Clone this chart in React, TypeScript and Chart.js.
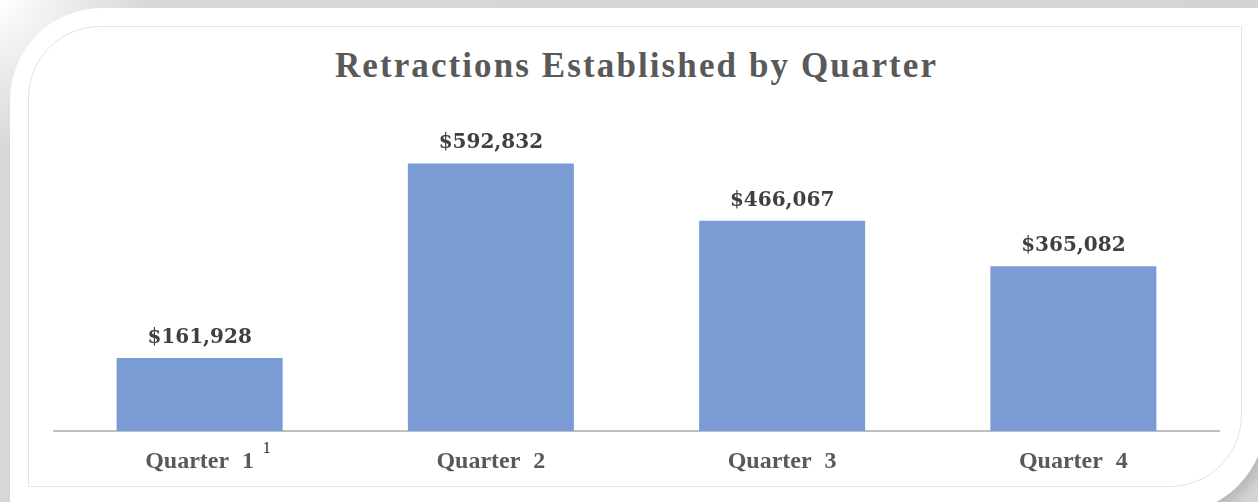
import React, { useEffect, useRef } from "react";
import { Chart, registerables } from "chart.js";

Chart.register(...registerables);

const TITLE = "Retractions Established by Quarter";
const categories = ["Quarter 1", "Quarter 2", "Quarter 3", "Quarter 4"];
const values = [161928, 592832, 466067, 365082];
const footnoteMark = "1";

const BAR_COLOR = "#7b9bd5";
const TEXT_COLOR = "#595959";
const LABEL_COLOR = "#404040";

const fmt = (v: number) => "$" + v.toLocaleString("en-US");

export default function App() {
  const canvasRef = useRef<HTMLCanvasElement | null>(null);

  useEffect(() => {
    if (!canvasRef.current) return;

    const spacingPlugin = {
      id: "spacing",
      beforeDraw(chart: any) {
        (chart.ctx as any).wordSpacing = "7px";
      },
    };

    const dataLabels = {
      id: "dataLabels",
      afterDatasetsDraw(chart: any) {
        const ctx = chart.ctx;
        const meta = chart.getDatasetMeta(0);
        ctx.save();
        ctx.font = "bold 20px 'DejaVu Serif'";
        ctx.fillStyle = LABEL_COLOR;
        ctx.textAlign = "center";
        ctx.textBaseline = "alphabetic";
        meta.data.forEach((el: any, i: number) => {
          ctx.fillText(fmt(values[i]), el.x, el.y - 15);
        });
        ctx.restore();
      },
    };

    const footnote = {
      id: "footnote",
      afterDraw(chart: any) {
        const ctx = chart.ctx;
        const xs = chart.scales.x;
        ctx.save();
        ctx.font = "16px 'Liberation Serif'";
        ctx.fillStyle = "#1a1a1a";
        ctx.textAlign = "center";
        ctx.textBaseline = "alphabetic";
        ctx.fillText(footnoteMark, xs.getPixelForTick(0) + 67, chart.chartArea.bottom + 22);
        ctx.restore();
      },
    };

    const chart = new Chart(canvasRef.current, {
      type: "bar",
      data: {
        labels: categories,
        datasets: [
          {
            data: values,
            backgroundColor: BAR_COLOR,
            borderWidth: 0,
            categoryPercentage: 1,
            barPercentage: 0.57,
          },
        ],
      },
      options: {
        animation: false,
        responsive: true,
        maintainAspectRatio: false,
        layout: { padding: { left: 54, right: 39, top: 115, bottom: 10 } },
        plugins: {
          legend: { display: false },
          title: { display: false },
          tooltip: { enabled: false },
        },
        scales: {
          x: {
            grid: { display: false, drawTicks: false },
            border: { display: true, color: "#bfbfbf", width: 2 },
            ticks: {
              color: TEXT_COLOR,
              padding: 16,
              font: { family: "'Liberation Serif'", size: 24, weight: "bold" },
            },
          },
          y: {
            display: false,
            min: 0,
            max: 700000,
          },
        },
      },
      plugins: [spacingPlugin, dataLabels, footnote],
    });

    return () => chart.destroy();
  }, []);

  return (
    <div
      style={{
        position: "absolute",
        left: 0,
        top: 0,
        width: 1258,
        height: 502,
        overflow: "hidden",
        background: "radial-gradient(circle at 0 0, #ffffff 0px, #f0f0f0 50px, #d8d8d8 150px, #d4d4d4 100%)",
      }}
    >
      <div
        style={{
          position: "absolute",
          left: 10,
          top: 8,
          width: 1256,
          height: 506,
          background: "#ffffff",
          borderRadius: "92px 0 96px 0",
          boxShadow: "6px 6px 10px rgba(0,0,0,0.12)",
        }}
      />
      <div
        style={{
          position: "absolute",
          left: 10,
          top: 490,
          width: 1180,
          height: 20,
          background: "#ffffff",
        }}
      />
      <div
        style={{
          position: "absolute",
          left: 28,
          top: 26,
          width: 1214,
          height: 461,
          border: "1px solid #e4e4e4",
          borderRadius: "72px 0 72px 0",
          boxSizing: "border-box",
        }}
      />
      <div
        style={{
          position: "absolute",
          left: 54,
          top: 48,
          width: 1165,
          textAlign: "center",
          fontFamily: "'Liberation Serif', serif",
          fontWeight: "bold",
          fontSize: 35,
          lineHeight: 1,
          letterSpacing: "2.1px",
          color: TEXT_COLOR,
          whiteSpace: "nowrap",
        }}
      >
        {TITLE}
      </div>
      <div style={{ position: "absolute", left: 0, top: 0, width: 1258, height: 502 }}>
        <canvas ref={canvasRef} />
      </div>
    </div>
  );
}
